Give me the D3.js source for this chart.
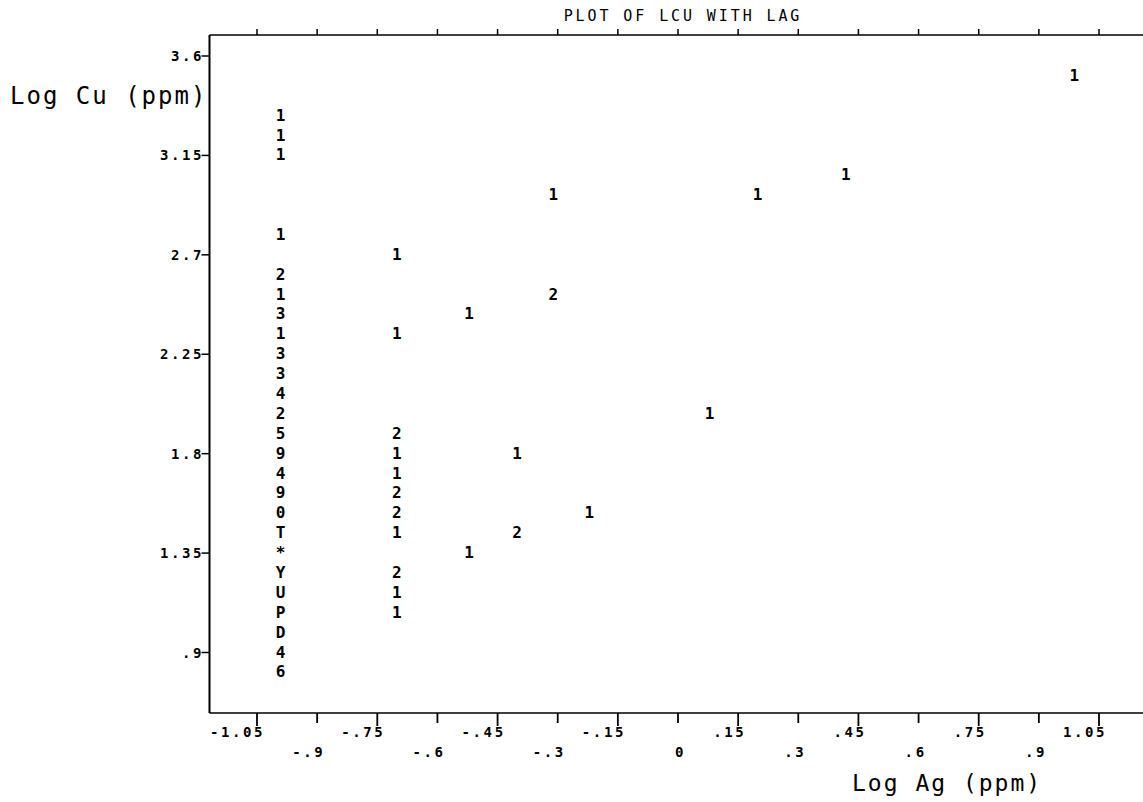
<!DOCTYPE html>
<html><head><meta charset="utf-8">
<script src="https://cdn.jsdelivr.net/npm/d3@7"></script>
<style>html,body{margin:0;padding:0;background:#fff;} svg{display:block;}</style>
</head><body><svg id="c" width="1143" height="802"></svg>
<script>
const titleText = "PLOT OF LCU WITH LAG";
const xAxisTitle = "Log Ag (ppm)";
const yAxisTitle = "Log Cu (ppm)";
const xTicks = [-1.05, -0.9, -0.75, -0.6, -0.45, -0.3, -0.15, 0, 0.15, 0.3, 0.45, 0.6, 0.75, 0.9, 1.05];
const xTickLabels = ["-1.05", "-.9", "-.75", "-.6", "-.45", "-.3", "-.15", "0", ".15", ".3", ".45", ".6", ".75", ".9", "1.05"];
const yTicks = [3.6, 3.15, 2.7, 2.25, 1.8, 1.35, 0.9];
const yTickLabels = ["3.6", "3.15", "2.7", "2.25", "1.8", "1.35", ".9"];
const pointX = [
  -0.99, -0.99, -0.99, -0.99, -0.99, -0.99, -0.99, -0.99, -0.99, -0.99, -0.99, -0.99, -0.99,
  -0.99, -0.99, -0.99, -0.99, -0.99, -0.99, -0.99, -0.99, -0.99, -0.99, -0.99, -0.99,
  -0.70, -0.70, -0.70, -0.70, -0.70, -0.70, -0.70, -0.70, -0.70, -0.70, -0.70,
  -0.52, -0.52, -0.40, -0.40, -0.31, -0.31, -0.22, 0.08, 0.20, 0.42, 0.99];
const pointY = [
  3.33, 3.24, 3.15, 2.79, 2.61, 2.52, 2.43, 2.34, 2.25, 2.16, 2.07, 1.98, 1.89,
  1.80, 1.71, 1.62, 1.53, 1.44, 1.35, 1.26, 1.17, 1.08, 0.99, 0.90, 0.81,
  2.70, 2.34, 1.89, 1.80, 1.71, 1.62, 1.53, 1.44, 1.26, 1.17, 1.08,
  2.43, 1.35, 1.80, 1.44, 2.97, 2.52, 1.53, 1.98, 2.97, 3.06, 3.51];
const pointSymbol = [
  "1", "1", "1", "1", "2", "1", "3", "1", "3", "3", "4", "2", "5",
  "9", "4", "9", "0", "T", "*", "Y", "U", "P", "D", "4", "6",
  "1", "1", "2", "1", "1", "2", "2", "1", "2", "1", "1",
  "1", "1", "1", "2", "1", "2", "1", "1", "1", "1", "1"];

const mono = "'DejaVu Sans Mono', monospace";
const svg = d3.select("#c");
const frame = {left: 209.5, top: 35, bottom: 713, right: 1143};
const x = d3.scaleLinear().domain([-1.05, 1.05]).range([256.5, 1098.5]);
const y = d3.scaleLinear().domain([3.6, 0.9]).range([55.5, 652]);

// frame lines
svg.append("line").attr("x1", frame.left).attr("x2", frame.right).attr("y1", frame.top).attr("y2", frame.top)
  .attr("stroke", "#000").attr("stroke-width", 1.5);
svg.append("line").attr("x1", frame.left).attr("x2", frame.right).attr("y1", frame.bottom).attr("y2", frame.bottom)
  .attr("stroke", "#000").attr("stroke-width", 1.5);
svg.append("line").attr("x1", frame.left).attr("x2", frame.left).attr("y1", frame.top).attr("y2", frame.bottom)
  .attr("stroke", "#000").attr("stroke-width", 2);

// top ticks
const topAxis = svg.append("g").attr("transform", `translate(0,${frame.top})`)
  .call(d3.axisTop(x).tickValues(xTicks).tickSize(6).tickSizeOuter(0).tickFormat(""));
topAxis.select(".domain").remove();
topAxis.selectAll("line").attr("stroke", "#000").attr("stroke-width", 1.5);

// bottom axis
const tickAdv = 11, lsp = 2.6;
const bottomAxis = svg.append("g").attr("transform", `translate(0,${frame.bottom})`)
  .call(d3.axisBottom(x).tickValues(xTicks).tickSizeOuter(0).tickFormat((d, i) => xTickLabels[i]));
bottomAxis.select(".domain").remove();
bottomAxis.selectAll(".tick line").attr("stroke", "#000").attr("stroke-width", 1.8)
  .attr("y2", (d, i) => i % 2 === 0 ? 13 : 10);
bottomAxis.selectAll(".tick text")
  .attr("font-family", mono).attr("font-size", 14).attr("font-weight", "bold")
  .attr("letter-spacing", lsp + "px")
  .attr("fill", "#000").attr("text-anchor", "end")
  .attr("x", tickAdv / 2 + lsp)
  .attr("dy", null)
  .attr("y", (d, i) => i % 2 === 0 ? 19 : 39)
  .attr("dominant-baseline", "central");

// left axis
const leftAxis = svg.append("g").attr("transform", `translate(${frame.left},0)`)
  .call(d3.axisLeft(y).tickValues(yTicks).tickSize(8).tickSizeOuter(0).tickFormat((d, i) => yTickLabels[i]));
leftAxis.select(".domain").remove();
leftAxis.selectAll(".tick line").attr("stroke", "#000").attr("stroke-width", 1.5);
leftAxis.selectAll(".tick text")
  .attr("font-family", mono).attr("font-size", 14).attr("font-weight", "bold")
  .attr("letter-spacing", lsp + "px")
  .attr("fill", "#000").attr("text-anchor", "end")
  .attr("x", -8 + lsp).attr("dy", null).attr("dominant-baseline", "central");

// title
svg.append("text").attr("x", 683).attr("y", 16).attr("text-anchor", "middle")
  .attr("dominant-baseline", "central")
  .attr("font-family", mono).attr("font-size", 15).attr("letter-spacing", "2.9px")
  .attr("fill", "#000").text(titleText);

// axis titles
svg.append("text").attr("x", 10).attr("y", 104)
  .attr("font-family", mono).attr("font-size", 24).attr("letter-spacing", "2px")
  .attr("fill", "#000").text(yAxisTitle);
svg.append("text").attr("x", 852).attr("y", 791)
  .attr("font-family", mono).attr("font-size", 23).attr("letter-spacing", "2px")
  .attr("fill", "#000").text(xAxisTitle);

// plot symbols
const pts = pointX.map((v, i) => ({x: v, y: pointY[i], s: pointSymbol[i]}));
svg.append("g").selectAll("text").data(pts).join("text")
  .attr("x", d => x(d.x)).attr("y", d => y(d.y))
  .attr("text-anchor", "middle").attr("dominant-baseline", "central")
  .attr("font-family", mono).attr("font-weight", "bold").attr("font-size", 16)
  .attr("fill", "#000").text(d => d.s);
</script></body></html>
